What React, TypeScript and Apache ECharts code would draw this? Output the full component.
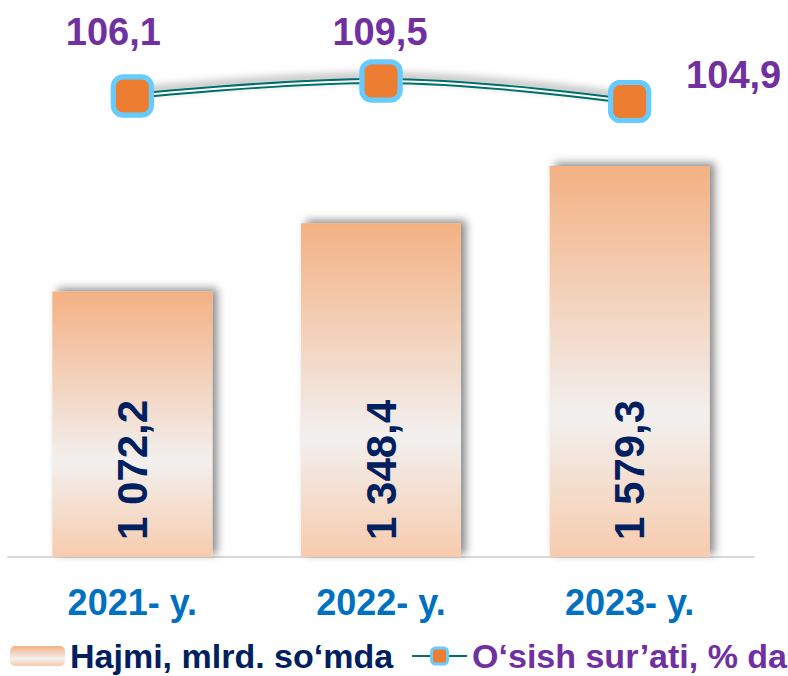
import React, { useEffect, useRef } from "react";
import * as echarts from "echarts";

const categories = ["2021- y.", "2022- y.", "2023- y."];
const volumeValues = [1072.2, 1348.4, 1579.3];
const growthValues = [106.1, 109.5, 104.9];
const growthLabelOffsets = [[-19, -64], [-1, -49], [104, -26]];
const volumeName = "Hajmi, mlrd. so‘mda";
const growthName = "O‘sish sur’ati, % da";

const FONT = "Arial, 'Liberation Sans', sans-serif";

function fmtComma(v: number): string {
  const s = v.toFixed(1);
  const [intPart, dec] = s.split(".");
  const withSpaces = intPart.replace(/\B(?=(\d{3})+(?!\d))/g, " ");
  return withSpaces + "," + dec;
}

export default function App() {
  const ref = useRef<HTMLDivElement>(null);
  useEffect(() => {
    if (!ref.current) return;
    const chart = echarts.init(ref.current, undefined, { renderer: "svg" });
    const barGradient = new echarts.graphic.LinearGradient(0, 0, 0, 1, [
      { offset: 0, color: "#F4B183" },
      { offset: 0.64, color: "#F2F0EF" },
      { offset: 1, color: "#F7CBAD" },
    ]);
    const markerStyle = {
      color: "#ED7D31",
      borderColor: "#66CCFF",
      borderWidth: 5,
      opacity: 1,
    };
    const option: any = {
      animation: false,
      backgroundColor: "#ffffff",
      grid: { left: 8, right: 34, top: 10, bottom: 119, containLabel: false },
      legend: {
        left: 5,
        top: 633,
        width: 3000,
        itemWidth: 55,
        itemHeight: 20,
        itemGap: 18,
        textStyle: { fontFamily: FONT, fontWeight: "bold", fontSize: 34, lineHeight: 36 },
        data: [
          { name: volumeName, textStyle: { color: "#002060" } },
          {
            name: growthName,
            textStyle: { color: "#7030A0" },
            itemStyle: { borderWidth: 3 },
          },
        ],
      },
      xAxis: {
        type: "category",
        data: categories,
        axisLine: { show: true, lineStyle: { color: "#D9D9D9", width: 2 } },
        axisTick: { show: false },
        axisLabel: {
          color: "#0070C0",
          fontFamily: FONT,
          fontWeight: "bold",
          fontSize: 36,
          margin: 27,
        },
        splitLine: { show: false },
      },
      yAxis: [
        { type: "value", min: 0, max: 2210, show: false, splitLine: { show: false } },
        { type: "value", min: 2.5, max: 125.46, show: false, splitLine: { show: false } },
      ],
      series: [
        {
          name: volumeName,
          type: "bar",
          data: volumeValues,
          barWidth: 160,
          itemStyle: {
            color: barGradient,
            shadowColor: "rgba(0,0,0,0.45)",
            shadowBlur: 8,
            shadowOffsetX: 5,
            shadowOffsetY: -3,
          },
          label: {
            show: true,
            position: "insideBottom",
            rotate: 90,
            align: "left",
            verticalAlign: "middle",
            distance: 17,
            color: "#002060",
            fontFamily: FONT,
            fontWeight: "bold",
            fontSize: 42,
            textBorderWidth: 0,
            formatter: (p: any) => fmtComma(p.value),
          },
          z: 2,
        },
        {
          name: growthName,
          type: "line",
          yAxisIndex: 1,
          data: growthValues,
          smooth: 0.4,
          symbol: "roundRect",
          symbolSize: 38,
          itemStyle: markerStyle,
          lineStyle: {
            color: "#006E6B",
            width: 6,
            shadowColor: "rgba(0,0,0,0.35)",
            shadowBlur: 8,
            shadowOffsetY: -4,
          },
          z: 3,
        },
        {
          name: "inner",
          type: "line",
          yAxisIndex: 1,
          data: growthValues,
          smooth: 0.4,
          symbol: "none",
          lineStyle: { color: "#FFFFFF", width: 2 },
          silent: true,
          z: 4,
        },
        {
          name: "markers",
          type: "scatter",
          yAxisIndex: 1,
          data: growthValues.map((v, i) => ({
            value: v,
            label: { offset: growthLabelOffsets[i] },
          })),
          symbol: "roundRect",
          symbolSize: 38,
          itemStyle: markerStyle,
          label: {
            show: true,
            position: "inside",
            align: "center",
            verticalAlign: "middle",
            color: "#7030A0",
            opacity: 1,
            textBorderWidth: 0,
            textBorderColor: "transparent",
            fontFamily: FONT,
            fontWeight: "bold",
            fontSize: 38,
            formatter: (p: any) => fmtComma(p.value),
          },
          z: 5,
        },
      ],
    };
    chart.setOption(option);
    return () => chart.dispose();
  }, []);
  return (
    <div
      ref={ref}
      style={{ position: "fixed", left: 0, top: 0, width: 788, height: 676 }}
    />
  );
}
